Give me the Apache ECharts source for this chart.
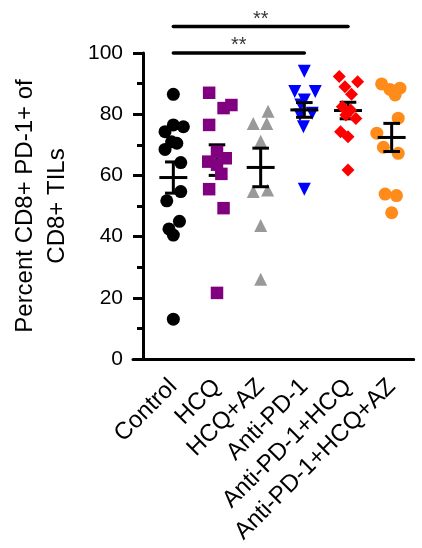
<!DOCTYPE html>
<html>
<head>
<meta charset="utf-8">
<script src="https://cdn.jsdelivr.net/npm/echarts@6/dist/echarts.min.js"></script>
<style>
  html, body { margin: 0; padding: 0; background: #fff; }
  #chart { width: 422px; height: 548px; }
</style>
</head>
<body>
<div id="chart"></div>
<script>
// groups on the x axis
const categories = ['Control', 'HCQ', 'HCQ+AZ', 'Anti-PD-1', 'Anti-PD-1+HCQ', 'Anti-PD-1+HCQ+AZ'];

// individual values (percent) and their horizontal scatter
const control = [86.5, 76.5, 75.9, 74.3, 71, 70.5, 68.5, 64.2, 54.7, 51.7, 45, 42.5, 40.5, 13];
const controlJitter = [0, 0, 0.23, -0.19, -0.04, 0.08, -0.19, 0.17, 0.17, -0.15, 0.14, -0.1, 0, 0];
const hcq = [87, 83, 82, 76.5, 67.7, 65.6, 64.5, 63.5, 60.5, 55.5, 49.3, 21.6];
const hcqJitter = [-0.18, 0.33, 0.15, -0.18, 0, 0.2, -0.2, 0, 0.1, -0.18, 0.15, 0];
const hcqAz = [81, 77, 77, 71.2, 55.2, 54.7, 43.6, 26.1];
const hcqAzJitter = [0.17, -0.17, 0.14, 0, 0.16, -0.17, 0, 0];
const antiPd1 = [94, 87.4, 87.4, 84.6, 83, 80.3, 79.7, 75.9, 55.5];
const antiPd1Jitter = [0, -0.22, 0.25, 0, -0.08, 0.18, -0.1, -0.02, 0];
const antiPd1Hcq = [92.3, 90.6, 89, 86.5, 82.4, 81.4, 79.7, 78.6, 74.3, 72.6, 61.8];
const antiPd1HcqJitter = [-0.2, 0.22, -0.07, 0.08, -0.13, 0.06, -0.05, 0.18, -0.17, 0, 0];
const antiPd1HcqAz = [89.9, 88.1, 88.5, 86.3, 78.7, 73.8, 69.2, 67.2, 53.9, 53.4, 47.8];
const antiPd1HcqAzJitter = [-0.23, -0.04, 0.19, 0.08, 0.15, -0.34, -0.19, 0.15, -0.15, 0.11, 0];

// mean and SEM bars
const means = [59.3, 65.0, 62.6, 81.4, 81.2, 72.4];
const sems = [5.1, 5.0, 6.3, 2.4, 2.7, 4.6];

// significance brackets: from group, to group, bar height, star height, label
const sigFrom = [0, 0];
const sigTo = [3, 4];
const sigLevel = [100, 108.7];
const sigStarLevel = [102.4, 111.1];
const sigText = ['**', '**'];

const yTicks = [0, 20, 40, 60, 80, 100];

const FONT = 'Liberation Sans, Arial, Helvetica, sans-serif';

const groups = [
    { values: control, jitter: controlJitter, color: '#000000', symbol: 'circle', size: 13, rotate: 0, z: 2 },
    { values: hcq, jitter: hcqJitter, color: '#800080', symbol: 'rect', size: 12.5, rotate: 0, z: 4 },
    { values: hcqAz, jitter: hcqAzJitter, color: '#999999', symbol: 'triangle', size: 13, rotate: 0, z: 2 },
    { values: antiPd1, jitter: antiPd1Jitter, color: '#0000ff', symbol: 'triangle', size: 13, rotate: 180, z: 2 },
    { values: antiPd1Hcq, jitter: antiPd1HcqJitter, color: '#ff0000', symbol: 'diamond', size: 13, rotate: 0, z: 4 },
    { values: antiPd1HcqAz, jitter: antiPd1HcqAzJitter, color: '#ff8c1a', symbol: 'circle', size: 13, rotate: 0, z: 2 }
]

const myChart = echarts.init(document.getElementById('chart'), null, { renderer: 'canvas' })

const series = []

groups.forEach((g, gi) => {
    series.push({
        type: 'scatter',
        xAxisIndex: 1,
        yAxisIndex: 0,
        symbol: g.symbol,
        symbolSize: g.size,
        symbolRotate: g.rotate,
        itemStyle: { color: g.color, opacity: 1 },
        z: g.z,
        silent: true,
        data: g.values.map((v, i) => [gi + g.jitter[i], v])
    })
})

// mean +/- SEM
series.push({
    type: 'custom',
    xAxisIndex: 1,
    yAxisIndex: 0,
    z: 3,
    silent: true,
    data: means.map((m, i) => [i, m, sems[i]]),
    renderItem: function (params, api) {
        const x = api.value(0)
        const m = api.value(1)
        const s = api.value(2)
        const c = api.coord([x, m])
        const top = api.coord([x, m + s])
        const bot = api.coord([x, m - s])
        const half = api.size([0.32, 0])[0]
        const cap = api.size([0.19, 0])[0]
        const style = { stroke: '#000', lineWidth: 3 }
        return {
            type: 'group',
            children: [
                { type: 'line', shape: { x1: c[0] - half, y1: c[1], x2: c[0] + half, y2: c[1] }, style: style },
                { type: 'line', shape: { x1: c[0], y1: top[1], x2: c[0], y2: bot[1] }, style: style },
                { type: 'line', shape: { x1: c[0] - cap, y1: top[1], x2: c[0] + cap, y2: top[1] }, style: style },
                { type: 'line', shape: { x1: c[0] - cap, y1: bot[1], x2: c[0] + cap, y2: bot[1] }, style: style }
            ]
        }
    }
})

// significance bars
sigFrom.forEach((f, k) => {
    series.push({
        type: 'line',
        xAxisIndex: 1,
        yAxisIndex: 0,
        clip: false,
        silent: true,
        symbol: 'none',
        lineStyle: { color: '#000', width: 3.5, cap: 'round' },
        data: [[f, sigLevel[k]], [sigTo[k], sigLevel[k]]]
    })
})

// significance stars
series.push({
    type: 'scatter',
    xAxisIndex: 1,
    yAxisIndex: 0,
    clip: false,
    silent: true,
    symbolSize: 1,
    itemStyle: { color: 'rgba(0,0,0,0)' },
    label: {
        show: true,
        position: 'inside',
        color: '#000',
        fontFamily: FONT,
        fontSize: 20,
        formatter: p => sigText[p.dataIndex]
    },
    data: sigFrom.map((f, k) => [(f + sigTo[k]) / 2, sigStarLevel[k]])
})

const options = {
    animation: false,
    backgroundColor: '#fff',
    grid: [
        { left: 151.5, right: 8.5, top: 53, bottom: 189, containLabel: false, outerBoundsMode: 'none' },
        { left: 133, right: 8.5, top: 53, bottom: 189, containLabel: false, outerBoundsMode: 'none' }
    ],
    xAxis: [
        {
            type: 'category',
            gridIndex: 0,
            data: categories,
            axisLine: { lineStyle: { color: '#000', width: 3 } },
            axisTick: { alignWithLabel: true, length: 11, lineStyle: { color: '#000', width: 3 } },
            axisLabel: {
                rotate: 45,
                interval: 0,
                margin: 24,
                color: '#000',
                fontFamily: FONT,
                fontSize: 24
            }
        },
        {
            type: 'value',
            gridIndex: 0,
            min: -0.5,
            max: 5.5,
            show: false
        },
        {
            type: 'value',
            gridIndex: 1,
            min: 0,
            max: 1,
            axisLine: { show: true, onZero: false, lineStyle: { color: '#000', width: 3 } },
            axisTick: { show: false },
            axisLabel: { show: false },
            splitLine: { show: false }
        }
    ],
    yAxis: [
        {
            type: 'value',
            gridIndex: 0,
            min: yTicks[0],
            max: yTicks[yTicks.length - 1],
            interval: 20,
            offset: 8.5,
            name: 'Percent CD8+ PD-1+ of\nCD8+ TILs',
            nameLocation: 'middle',
            nameRotate: 90,
            nameGap: 70,
            nameTextStyle: { color: '#000', fontFamily: FONT, fontSize: 24, lineHeight: 32 },
            axisLine: { show: true, onZero: false, lineStyle: { color: '#000', width: 3 } },
            axisTick: { show: true, length: 10, lineStyle: { color: '#000', width: 3 } },
            minorTick: { show: true, splitNumber: 2, length: 6, lineStyle: { color: '#000', width: 3 } },
            axisLabel: { margin: 20, color: '#000', fontFamily: FONT, fontSize: 21 },
            splitLine: { show: false }
        },
        {
            type: 'value',
            gridIndex: 1,
            min: 0,
            max: 100,
            show: false
        }
    ],
    series: series
}

myChart.setOption(options)
</script>
</body>
</html>
